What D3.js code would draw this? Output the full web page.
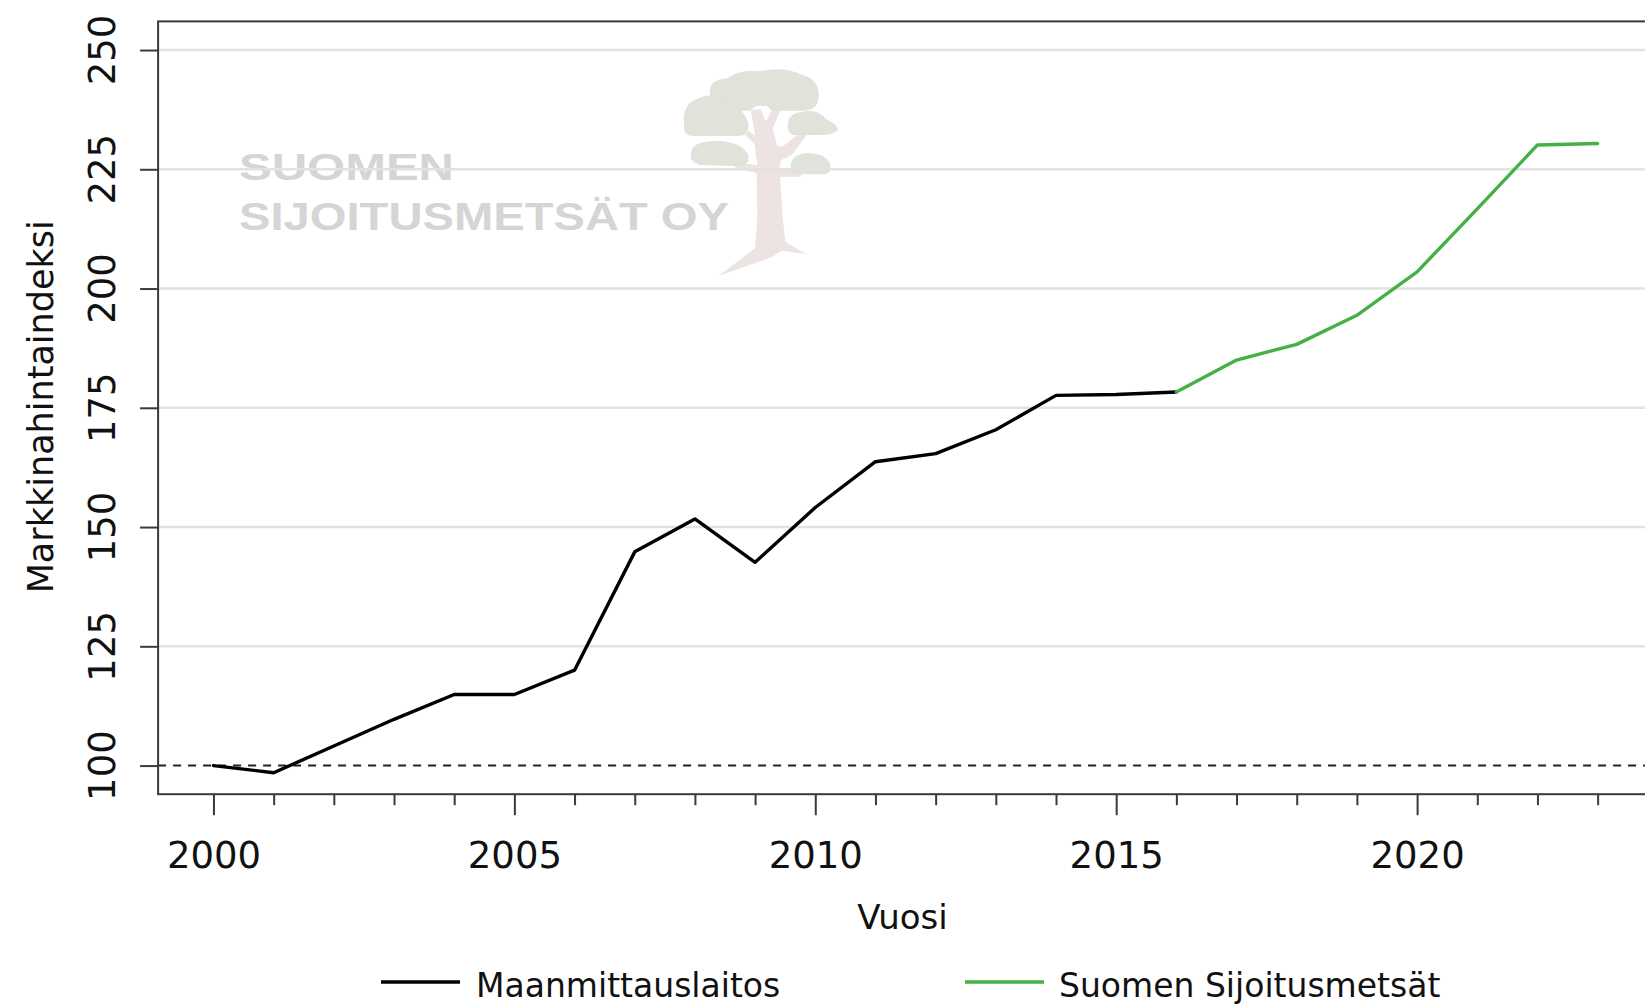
<!DOCTYPE html>
<html>
<head>
<meta charset="utf-8">
<script src="https://cdn.jsdelivr.net/npm/d3@7"></script>
<style>
  html, body { margin: 0; padding: 0; background: #ffffff; }
  svg { display: block; }
  text { font-family: "DejaVu Sans", sans-serif; fill: #111; }
</style>
</head>
<body>
<script>
// ---------------- DATA ----------------
const yearsMML = [2000, 2001, 2002, 2003, 2004, 2005, 2006, 2007, 2008, 2009, 2010, 2011, 2012, 2013, 2014, 2015, 2016];
const valuesMML = [100, 98.5, 104.1, 109.7, 114.9, 114.9, 120.0, 144.8, 151.7, 142.6, 154.1, 163.7, 165.4, 170.4, 177.6, 177.8, 178.3];
const yearsSSM = [2016, 2017, 2018, 2019, 2020, 2021, 2022, 2023];
const valuesSSM = [178.3, 185.0, 188.3, 194.4, 203.5, 216.7, 230.1, 230.4];
const seriesNames = ["Maanmittauslaitos", "Suomen Sijoitusmetsät"];
const yTicks = [100, 125, 150, 175, 200, 225, 250];
const xMajorTicks = [2000, 2005, 2010, 2015, 2020];
const xMinorTicks = d3.range(2000, 2024);
const xTitle = "Vuosi";
const yTitle = "Markkinahintaindeksi";
const watermark = ["SUOMEN", "SIJOITUSMETSÄT OY"];

// ---------------- LAYOUT ----------------
const W = 1645, H = 1005;
const colors = ["#000000", "#45b045"];

const svg = d3.select("body").append("svg").attr("width", W).attr("height", H);

const x = d3.scaleLinear().domain([1999.08, 2023.92]).range([158.1, 1653]);
const y = d3.scaleLinear().domain([94, 256]).range([794.2, 21.4]);
const [x0, x1] = x.range();
const [yB, yT] = y.range();

// ---------------- WATERMARK ----------------
const wm = svg.append("g").attr("class", "watermark");
wm.append("text").attr("x", 239).attr("y", 180)
  .attr("textLength", 215).attr("lengthAdjust", "spacingAndGlyphs")
  .style("font-family", "'Liberation Sans', Arial, sans-serif").style("font-weight", "bold")
  .style("font-size", "37px").style("fill", "#d5d5d5").text(watermark[0]);
wm.append("text").attr("x", 239).attr("y", 230)
  .attr("textLength", 490).attr("lengthAdjust", "spacingAndGlyphs")
  .style("font-family", "'Liberation Sans', Arial, sans-serif").style("font-weight", "bold")
  .style("font-size", "39px").style("fill", "#d5d5d5").text(watermark[1]);

// tree logo (decorative)
const tree = wm.append("g").attr("transform", "translate(660,60) scale(0.3333)");
const canopy = "#dfe3da", trunk = "#ede3e3";
tree.append("path").attr("fill", trunk).attr("d",
  "M175,648 L285,565 L292,470 L290,340 L225,322 L215,305 L292,316 L284,252 L255,224 L266,212 L286,228 L272,150 L302,148 L318,185 L336,148 L362,150 L338,205 L352,258 L370,258 L428,212 L444,220 L396,284 L364,300 L358,328 L422,334 L424,350 L360,350 L368,470 L376,545 L438,582 L366,572 L334,592 Z");
const blobs = [
  "M150,100 Q145,58 203,55 Q240,26 300,34 Q372,18 428,45 Q480,60 476,112 Q474,152 430,152 L335,152 L322,138 L288,138 L270,152 L198,152 Q148,144 150,100 Z",
  "M72,192 Q64,130 120,113 Q155,96 208,126 Q255,150 265,190 Q270,228 232,228 L100,228 Q68,228 72,192 Z",
  "M383,197 Q383,158 430,155 Q474,147 498,178 Q534,194 533,210 Q522,225 480,225 L400,225 Q383,218 383,197 Z",
  "M92,286 Q93,248 142,245 Q202,237 243,260 Q270,280 265,302 Q258,318 220,318 L120,315 Q92,308 92,286 Z",
  "M392,316 Q397,282 440,279 Q494,279 509,309 Q519,338 492,343 L408,343 Q392,338 392,316 Z"
];
tree.selectAll("path.blob").data(blobs).join("path").attr("class", "blob").attr("fill", canopy).attr("d", d => d);

// ---------------- GRID ----------------
svg.append("g").selectAll("line").data(yTicks.filter(d => d !== 100)).join("line")
  .attr("x1", x0).attr("x2", x1)
  .attr("y1", d => y(d)).attr("y2", d => y(d))
  .attr("stroke", "#e2e2e2").attr("stroke-width", 2.5);

svg.append("line")
  .attr("x1", x0).attr("x2", x1).attr("y1", y(100)).attr("y2", y(100))
  .attr("stroke", "#222").attr("stroke-width", 2).attr("stroke-dasharray", "8,7");

// ---------------- LINES ----------------
const line = d3.line().x(d => x(d[0])).y(d => y(d[1]));
const series = [
  d3.zip(yearsMML, valuesMML),
  d3.zip(yearsSSM, valuesSSM)
];
svg.append("g").selectAll("path").data(series).join("path")
  .attr("d", line)
  .attr("fill", "none")
  .attr("stroke", (d, i) => colors[i])
  .attr("stroke-width", 3.4)
  .attr("stroke-linejoin", "round")
  .attr("stroke-linecap", "round");

// ---------------- BOX ----------------
svg.append("rect")
  .attr("x", x0).attr("y", yT).attr("width", x1 - x0).attr("height", yB - yT)
  .attr("fill", "none").attr("stroke", "#3a3a3a").attr("stroke-width", 2);

// ---------------- AXES ----------------
const yAxisG = svg.append("g").attr("transform", `translate(${x0},0)`)
  .call(d3.axisLeft(y).tickValues(yTicks).tickSize(18).tickFormat(""));
yAxisG.select(".domain").remove();
yAxisG.selectAll("line").attr("stroke", "#3a3a3a").attr("stroke-width", 2);

svg.append("g").selectAll("text").data(yTicks).join("text")
  .attr("transform", d => `translate(115,${y(d)}) rotate(-90)`)
  .attr("text-anchor", "middle")
  .style("font-size", "37px")
  .text(d => d);

const xMinorG = svg.append("g").attr("transform", `translate(0,${yB})`)
  .call(d3.axisBottom(x).tickValues(xMinorTicks.filter(d => d % 5 !== 0)).tickSize(11).tickFormat(""));
xMinorG.select(".domain").remove();
xMinorG.selectAll("line").attr("stroke", "#3a3a3a").attr("stroke-width", 2);

const xMajorG = svg.append("g").attr("transform", `translate(0,${yB})`)
  .call(d3.axisBottom(x).tickValues(xMajorTicks).tickSize(21).tickPadding(27).tickFormat(d3.format("d")));
xMajorG.select(".domain").remove();
xMajorG.selectAll("line").attr("stroke", "#3a3a3a").attr("stroke-width", 2);
xMajorG.selectAll("text")
  .style("font-family", "'DejaVu Sans', sans-serif").style("font-size", "37px").attr("fill", "#111");

// ---------------- TITLES ----------------
svg.append("text")
  .attr("x", (x0 + x1) / 2 - 3).attr("y", 929)
  .attr("text-anchor", "middle").style("font-size", "34px").text(xTitle);

svg.append("text")
  .attr("transform", `translate(53,${(yT + yB) / 2 - 1}) rotate(-90)`)
  .attr("text-anchor", "middle").style("font-size", "35px").text(yTitle);

// ---------------- LEGEND ----------------
const legendPos = [{lx: 381, tx: 476}, {lx: 965, tx: 1059}];
const leg = svg.append("g").selectAll("g").data(seriesNames).join("g");
leg.append("line")
  .attr("x1", (d, i) => legendPos[i].lx).attr("x2", (d, i) => legendPos[i].lx + 79)
  .attr("y1", 982).attr("y2", 982)
  .attr("stroke", (d, i) => colors[i]).attr("stroke-width", 3.4);
leg.append("text")
  .attr("x", (d, i) => legendPos[i].tx).attr("y", 997)
  .style("font-size", "33px").text(d => d);
</script>
</body>
</html>
